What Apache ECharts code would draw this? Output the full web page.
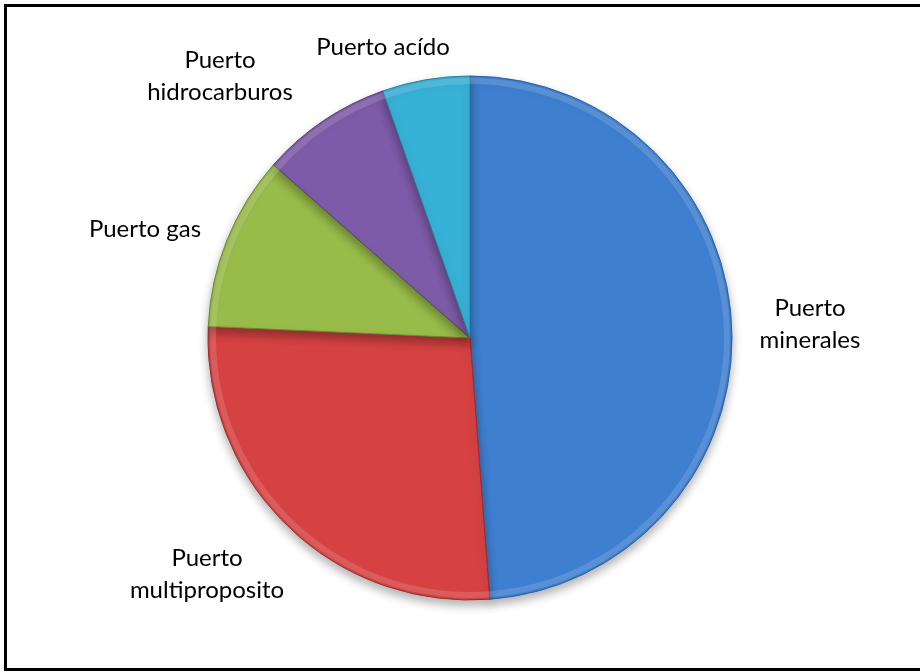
<!DOCTYPE html>
<html>
<head>
<meta charset="utf-8">
<script src="https://cdn.jsdelivr.net/npm/echarts@6/dist/echarts.min.js"></script>
<style>
  html, body { margin: 0; padding: 0; background: #fff; overflow: hidden; }
  #chart { width: 920px; height: 672px; }
</style>
</head>
<body>
<div id="chart"></div>
<script>
// Port types and their share of the total
const categories = ['Puerto minerales', 'Puerto multiproposito', 'Puerto gas', 'Puerto hidrocarburos', 'Puerto acído'];
const shares = [48.8, 26.9, 10.8, 8.1, 5.4];

// Label text as shown (two-line labels where the name wraps)
const labelText = ['Puerto\nminerales', 'Puerto\nmultiproposito', 'Puerto gas', 'Puerto\nhidrocarburos', 'Puerto acído'];

// Slice colours and their darker edge tones
const baseColors = ['#3f7fd0', '#d64242', '#98bb4a', '#7e5ba8', '#37b1d6'];
const darkColors = ['#2c5f9e', '#9e2c2c', '#6c8a30', '#5a3f7c', '#24829e'];

// Label anchor points (centre of each text block)
const labelAnchors = [[810, 324], [207, 574], [145, 229], [220, 76], [383, 47]];

const CX = 470, CY = 338, R = 262;

const chart = echarts.init(document.getElementById('chart'), null, { renderer: 'canvas' });

const mainData = categories.map((name, i) => ({
  name,
  value: shares[i],
  itemStyle: { color: baseColors[i], borderColor: darkColors[i] }
}));

chart.setOption({
  animation: false,
  backgroundColor: '#ffffff',
  graphic: [{
    type: 'rect',
    shape: { x: 5.5, y: 5.5, width: 1000, height: 664 },
    style: { fill: 'none', stroke: '#000', lineWidth: 3 },
    z: 100
  }],
  series: [
    {
      type: 'pie',
      center: [CX, CY],
      radius: [0, R],
      startAngle: 90,
      clockwise: true,
      data: mainData,
      itemStyle: {
        borderWidth: 1,
        shadowBlur: 10,
        shadowOffsetY: 5,
        shadowColor: 'rgba(0,0,0,0.3)'
      },
      label: {
        show: true,
        position: 'outside',
        formatter: p => labelText[p.dataIndex],
        fontFamily: 'Lato',
        fontSize: 24,
        lineHeight: 32,
        color: '#000',
        align: 'center'
      },
      labelLine: { show: false },
      labelLayout: p => ({
        x: labelAnchors[p.dataIndex][0],
        y: labelAnchors[p.dataIndex][1],
        align: 'center',
        verticalAlign: 'middle'
      }),
      emphasis: { disabled: true }
    },
    {
      // thin highlight band along the rim for a bevelled look
      type: 'pie',
      center: [CX, CY],
      radius: [R - 8, R - 2],
      startAngle: 90,
      clockwise: true,
      silent: true,
      data: shares.map((v, i) => ({ name: categories[i], value: v })),
      itemStyle: { color: 'rgba(255,255,255,0.14)', borderWidth: 0 },
      label: { show: false },
      labelLine: { show: false },
      emphasis: { disabled: true }
    }
  ]
});
</script>
</body>
</html>
